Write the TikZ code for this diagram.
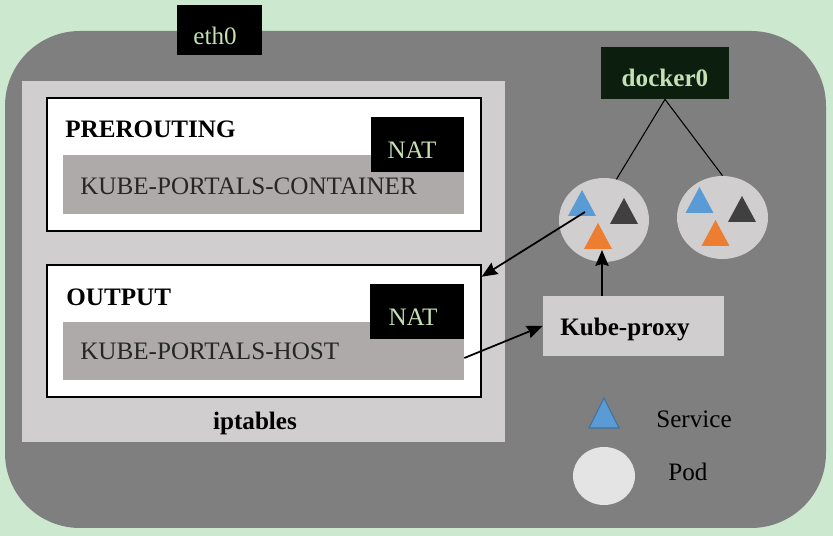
\documentclass[tikz,border=0pt]{standalone}
\usepackage{fontspec}
\setmainfont{Liberation Serif}
\usetikzlibrary{shapes.geometric, arrows.meta}
\definecolor{bggreen}{HTML}{CCE8CF}
\definecolor{hostgray}{HTML}{7F7F7F}
\definecolor{boxgray}{HTML}{D0CECE}
\definecolor{chaingray}{HTML}{AEAAAA}
\definecolor{textgreen}{HTML}{C5E0B4}
\definecolor{dockergreen}{HTML}{0C1F0F}
\definecolor{svcblue}{HTML}{5B9BD5}
\definecolor{svcedge}{HTML}{41719C}
\definecolor{podorange}{HTML}{ED7D31}
\definecolor{darktri}{HTML}{404040}
\definecolor{legendpod}{HTML}{E4E4E4}
\newcommand{\podtri}[3]{\fill[#1] ({#2-14}, {#3+13}) -- ({#2+14}, {#3+13}) -- (#2, {#3-13}) -- cycle;}

\begin{document}
\begin{tikzpicture}[x=0.02cm, y=-0.02cm, >={Stealth[length=9pt, width=7.5pt, inset=1pt]},
    every node/.style={font=\fontsize{14.3}{16}\selectfont},
    box/.style={rectangle, inner sep=0pt},
    pod/.style={ellipse, fill=boxgray, inner sep=0pt},
    txt/.style={inner sep=0pt, anchor=base west}]
    \fill[bggreen] (0, 0) rectangle (833, 536);
    \fill[hostgray, rounded corners=1.5cm] (5, 31) rectangle (826, 528);

    \node[box, fill=black, minimum width=1.72cm, minimum height=1cm] (eth0) at (219.5, 30) {};
    \node[txt, anchor=base, text=textgreen] (eth0label) at (215, 45) {eth0};

    \node[box, fill=boxgray, minimum width=9.66cm, minimum height=7.22cm] (iptables) at (263.5, 261.5) {};
    \node[txt, anchor=base] (iptableslabel) at (255, 430) {\bfseries iptables};

    \node[box, draw=black, fill=white, line width=0.7pt, minimum width=8.68cm, minimum height=2.66cm] (prerouting) at (264, 164.5) {};
    \node[box, fill=chaingray, minimum width=8.02cm, minimum height=1.18cm] (container) at (263.5, 184.5) {};
    \node[box, fill=black, minimum width=1.86cm, minimum height=1.1cm] (nat1) at (417.5, 144.5) {};
    \node[txt] (prelabel) at (65, 138) {\bfseries PREROUTING};
    \node[txt, anchor=base, text=textgreen] (nat1label) at (412, 159) {NAT};
    \node[txt, text=black!85] (containerlabel) at (80, 195) {KUBE-PORTALS-CONTAINER};

    \node[box, draw=black, fill=white, line width=0.7pt, minimum width=8.68cm, minimum height=2.64cm] (output) at (264, 331) {};
    \node[box, fill=chaingray, minimum width=8.02cm, minimum height=1.16cm] (host) at (263.5, 351) {};
    \node[box, fill=black, minimum width=1.88cm, minimum height=1.1cm] (nat2) at (417, 311.5) {};
    \node[txt] (outputlabel) at (66, 306) {\bfseries OUTPUT};
    \node[txt, anchor=base, text=textgreen] (nat2label) at (413, 326) {NAT};
    \node[txt, text=black!85] (hostlabel) at (80, 360) {KUBE-PORTALS-HOST};

    \node[box, fill=dockergreen, minimum width=2.56cm, minimum height=1.04cm] (docker0) at (665, 73) {};
    \node[txt, anchor=base, text=textgreen] (docker0label) at (665, 87) {\bfseries docker0};

    \node[pod, minimum width=1.8cm, minimum height=1.68cm] (pod1) at (604, 220) {};
    \node[pod, minimum width=1.82cm, minimum height=1.66cm] (pod2) at (722.5, 217.5) {};
    \podtri{svcblue}{582}{203}
    \podtri{darktri}{624}{211}
    \podtri{podorange}{598}{236}
    \podtri{svcblue}{699.5}{200}
    \podtri{darktri}{742}{209}
    \podtri{podorange}{715.5}{233}
    \coordinate (p1svc) at (585, 212);
    \coordinate (p1in) at (602, 250);

    \node[box, fill=boxgray, minimum width=3.62cm, minimum height=1.2cm] (proxy) at (633.5, 326) {};
    \node[txt] (proxylabel) at (560, 336) {\bfseries Kube-proxy};

    % legend
    \draw[svcedge, fill=svcblue, line width=0.6pt] (589, 428) -- (619, 428) -- (604, 398) -- cycle;
    \node[txt] (servicelabel) at (656, 428) {Service};
    \node[pod, fill=legendpod, minimum width=1.24cm, minimum height=1.16cm] (podkey) at (604, 476) {};
    \node[txt] (podlabel) at (668, 481) {Pod};

    \path[line width=0.6pt]
        (docker0.south) edge (pod1.73)
        (docker0.south) edge (pod2.north)
    ;
    \path[->, line width=1pt]
        (p1svc) edge (output.14)
        (host.-2.6) edge (proxy.west)
        (proxy.north -| p1in) edge (p1in)
    ;
\end{tikzpicture}
\end{document}
